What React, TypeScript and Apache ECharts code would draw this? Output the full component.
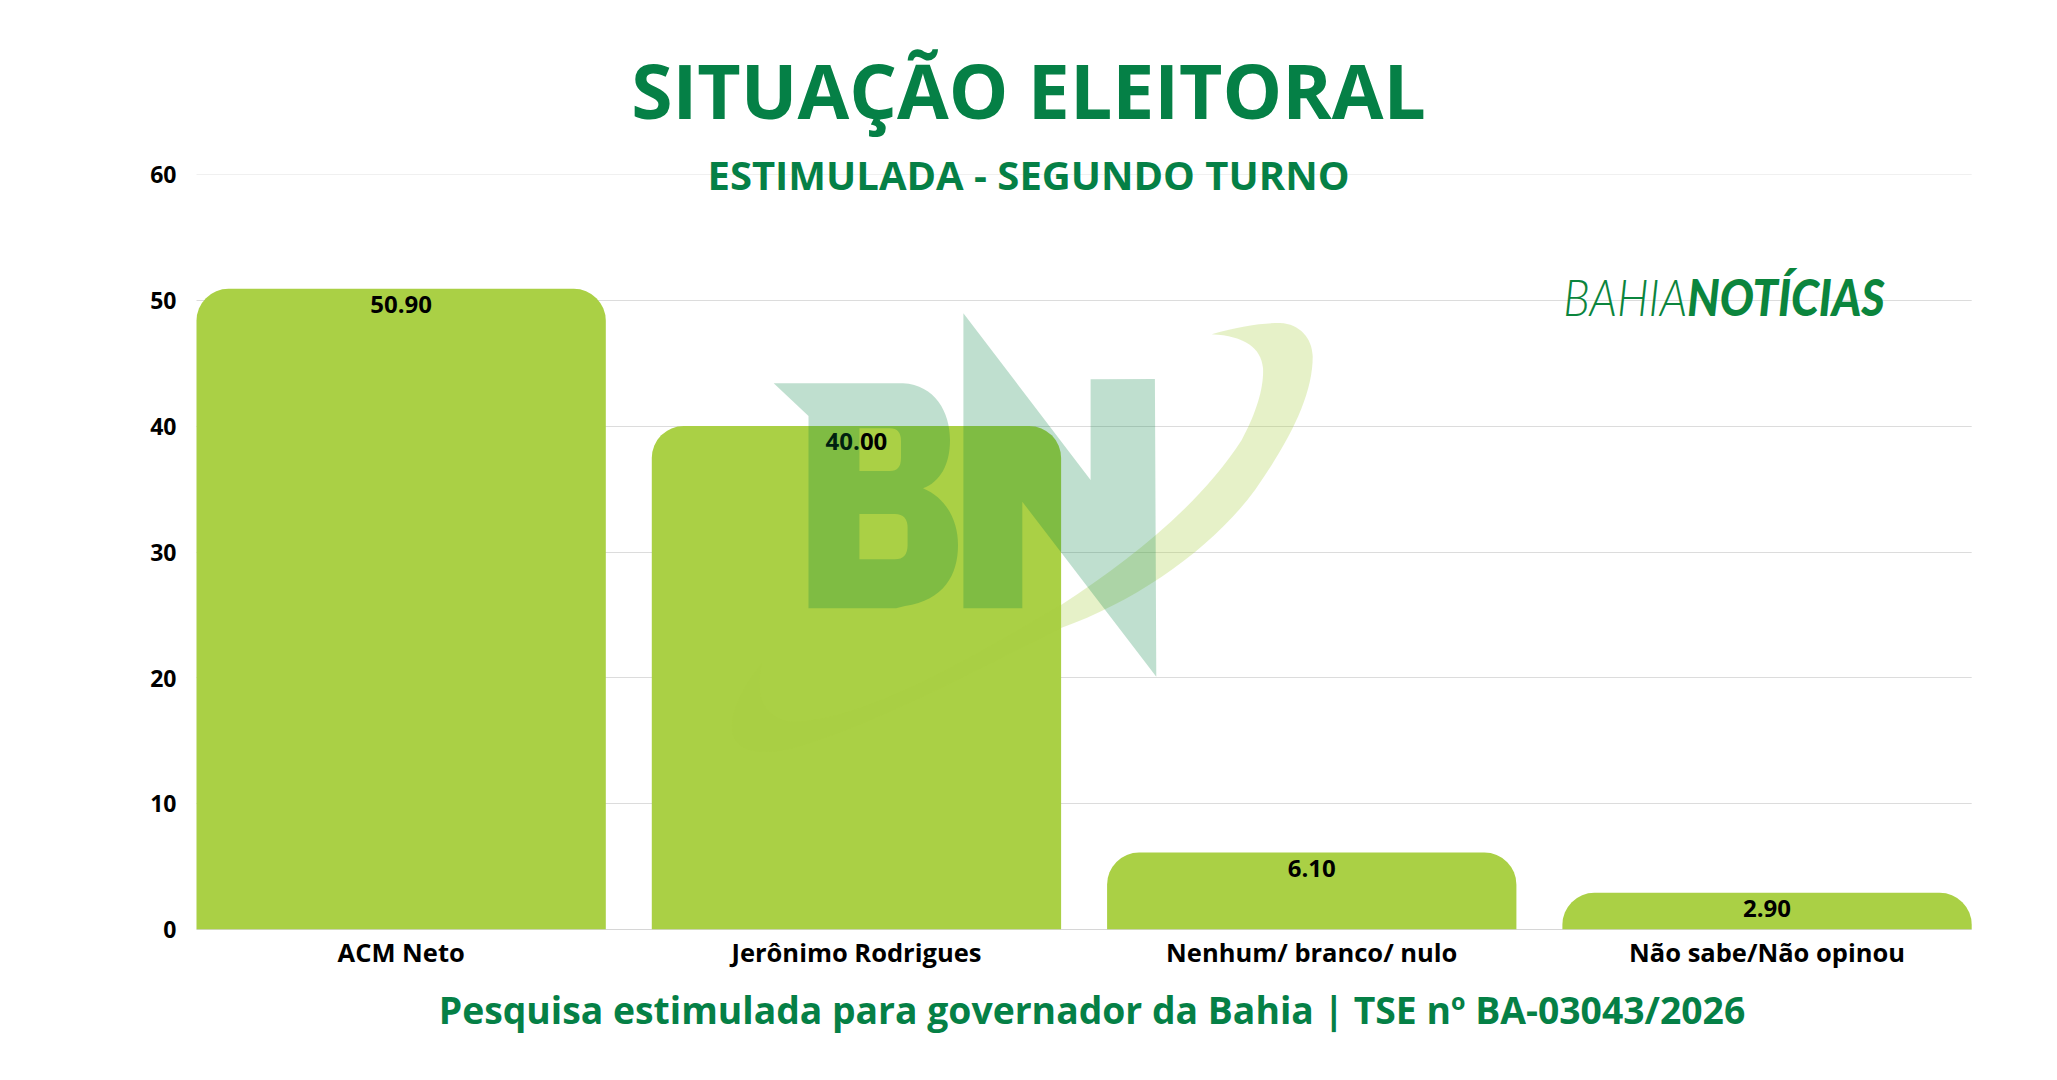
import React, { useEffect, useRef } from "react";
import * as echarts from "echarts";

// ---- data ----
const categories = ["ACM Neto", "Jerônimo Rodrigues", "Nenhum/ branco/ nulo", "Não sabe/Não opinou"];
const values = [50.9, 40.0, 6.1, 2.9];
const yMin = 0;
const yMax = 60;
const yInterval = 10;
const titleText = "SITUAÇÃO ELEITORAL";
const subtitleText = "ESTIMULADA - SEGUNDO TURNO";
const footerText = "Pesquisa estimulada para governador da Bahia | TSE nº BA-03043/2026";
const logoA = "BAHIA";
const logoB = "NOTÍCIAS";

// ---- watermark shapes ----
const B_PATH =
  "M 773.7 383.3 L 903 383.3 C 935 385 950 412 950 440 C 950 465 940 482 923 488.3 " +
  "C 946 498 958 520 958 545 C 958 575 944 600 905 606 L 896 608.3 L 808.5 608.3 L 808.5 416 Z " +
  "M 859.4 428.3 L 859.4 471 L 890 471 Q 901 471 901 458 L 901 441 Q 901 428.3 890 428.3 Z " +
  "M 859.4 514 L 859.4 559.3 L 895 559.3 Q 907.6 559.3 907.6 545 L 907.6 528 Q 907.6 514 895 514 Z";

const SWOOSH_PATH =
  "M 1211.7 334.3 C 1240 326 1262 323 1280 323 C 1300 324 1312 338 1312.7 356 " +
  "C 1313 395 1290 440 1255 490 C 1215 545 1140 600 1061 628 " +
  "C 980 668 880 722 800 746 C 770 755 740 755 733 735 C 728 715 742 688 762 663 " +
  "C 756 690 758 715 790 722 C 860 722 960 665 1061 605 " +
  "C 1130 560 1200 505 1241.7 440 C 1258 410 1264 385 1263 368 C 1261 348 1245 336 1211.7 334.3 Z";

const N_POINTS = [
  [963.4, 313.3],
  [1090.6, 480],
  [1090.6, 379.3],
  [1154.9, 379],
  [1156.3, 676.7],
  [1022.3, 501.7],
  [1022.3, 608.3],
  [963.4, 608.3],
];

let registered = false;
function registerShapes() {
  if (registered) return;
  registered = true;
  echarts.graphic.registerShape("bnB", echarts.graphic.extendPath(B_PATH, {}));
  echarts.graphic.registerShape("bnSwoosh", echarts.graphic.extendPath(SWOOSH_PATH, {}));
}

const GREEN = "#058046";
const BAR = "#aad045";
const FONT = '"Open Sans", "Noto Sans", sans-serif';

export default function App() {
  const ref = useRef<HTMLDivElement>(null);

  useEffect(() => {
    document.body.style.margin = "0";
    registerShapes();
    const chart = echarts.init(ref.current!, undefined, { renderer: "svg" });

    const gridTop = 174.3;
    const gridHeight = 755;

    chart.setOption({
      animation: false,
      backgroundColor: "#ffffff",
      textStyle: { fontFamily: FONT },
      grid: [
        { left: 196.5, top: gridTop, width: 1775.2, height: gridHeight },
        { left: 173.5, top: gridTop, width: 1821.2, height: gridHeight },
      ],
      xAxis: [
        {
          gridIndex: 0,
          type: "category",
          data: categories,
          axisLine: { show: false },
          axisTick: { show: false },
          axisLabel: { show: false },
        },
        {
          gridIndex: 1,
          type: "category",
          data: categories,
          axisLine: { show: false },
          axisTick: { show: false },
          axisLabel: {
            color: "#000",
            fontFamily: FONT,
            fontWeight: "bold",
            fontSize: 25.5,
            margin: 10,
          },
        },
      ],
      yAxis: [
        {
          gridIndex: 0,
          type: "value",
          min: yMin,
          max: yMax,
          interval: yInterval,
          axisLine: { show: false },
          axisTick: { show: false },
          axisLabel: {
            color: "#000",
            fontFamily: FONT,
            fontWeight: "bold",
            fontSize: 23,
            margin: 20,
          },
          splitLine: {
            lineStyle: {
              color: ["#d6d6d6", "#dcdcdc", "#dcdcdc", "#dcdcdc", "#dcdcdc", "#dcdcdc", "#f0f0f0"],
              width: 1,
            },
          },
        },
        {
          gridIndex: 1,
          type: "value",
          min: yMin,
          max: yMax,
          interval: yInterval,
          show: false,
          splitLine: { show: false },
        },
      ],
      series: [
        {
          type: "bar",
          xAxisIndex: 1,
          yAxisIndex: 1,
          data: values,
          barCategoryGap: "10.1%",
          itemStyle: { color: BAR, borderRadius: [32, 32, 0, 0] },
          label: {
            show: true,
            position: "insideTop",
            distance: 3,
            formatter: (p: any) => Number(p.value).toFixed(2),
            color: "#000",
            fontFamily: FONT,
            fontWeight: "bold",
            fontSize: 24,
          },
        },
      ],
      graphic: [
        {
          type: "text",
          x: 1028.5,
          y: 90,
          z: 10,
          style: {
            text: titleText,
            fill: GREEN,
            fontFamily: FONT,
            fontWeight: "bold",
            fontSize: 75,
            align: "center",
            verticalAlign: "middle",
          },
        },
        {
          type: "text",
          x: 1028.5,
          y: 174.8,
          z: 10,
          style: {
            text: subtitleText,
            fill: GREEN,
            fontFamily: FONT,
            fontWeight: "bold",
            fontSize: 40,
            align: "center",
            verticalAlign: "middle",
          },
        },
        {
          type: "text",
          x: 1092,
          y: 1009.5,
          z: 10,
          style: {
            text: footerText,
            fill: GREEN,
            fontFamily: FONT,
            fontWeight: "bold",
            fontSize: 37.3,
            align: "center",
            verticalAlign: "middle",
          },
        },
        {
          type: "text",
          x: 1563.3,
          y: 295.5,
          scaleX: 0.885,
          z: 10,
          style: {
            text: "{a|" + logoA + "}{b|" + logoB + "}",
            align: "left",
            verticalAlign: "middle",
            rich: {
              a: {
                fill: "#0b853d",
                fontFamily: "Lato",
                fontWeight: 300,
                fontStyle: "italic",
                fontSize: 51,
              },
              b: {
                fill: "#0b853d",
                fontFamily: "Lato",
                fontWeight: 900,
                fontStyle: "italic",
                fontSize: 51,
              },
            },
          },
        },
        {
          type: "bnSwoosh",
          x: 0,
          y: 0,
          z: 100,
          silent: true,
          style: { fill: "rgba(168,206,66,0.29)" },
        },
        {
          type: "bnB",
          x: 0,
          y: 0,
          z: 101,
          silent: true,
          style: { fill: "rgba(0,127,63,0.25)" },
        },
        {
          type: "polygon",
          z: 101,
          silent: true,
          shape: { points: N_POINTS },
          style: { fill: "rgba(0,127,63,0.25)" },
        },
      ],
    });

    return () => chart.dispose();
  }, []);

  return <div ref={ref} style={{ width: 2057, height: 1080 }} />;
}
